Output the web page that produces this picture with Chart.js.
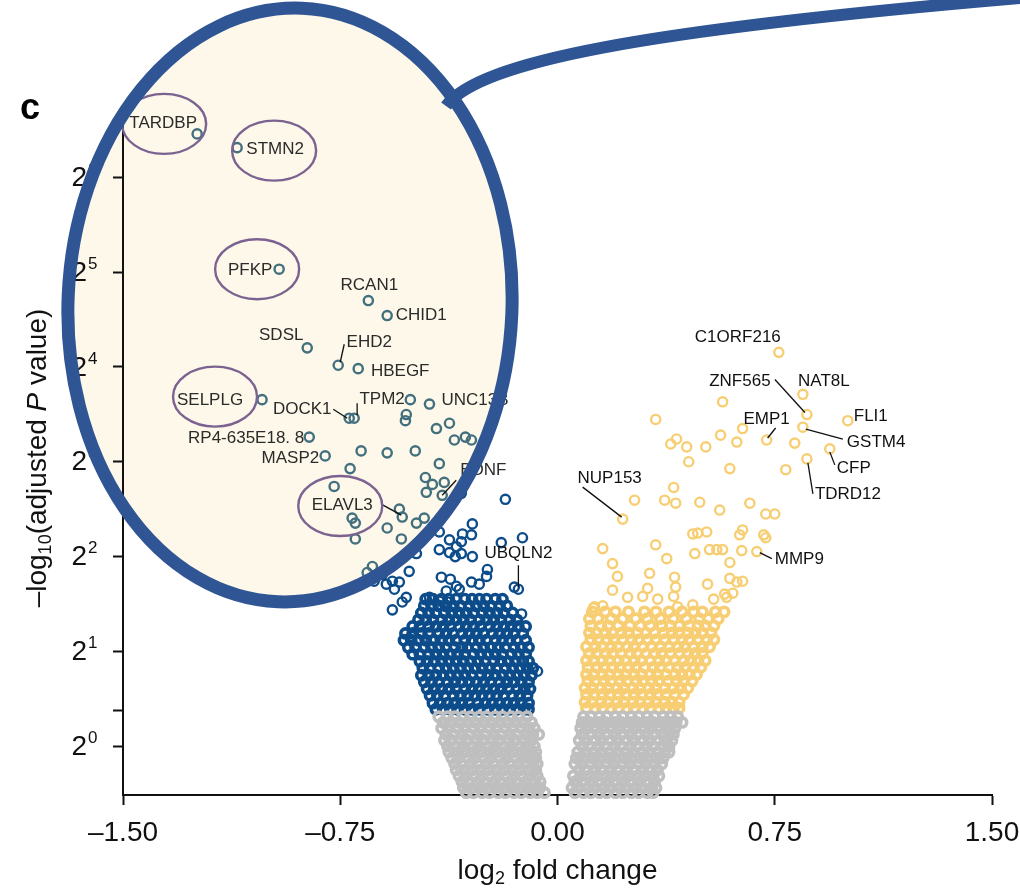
<!DOCTYPE html>
<html><head><meta charset="utf-8">
<script src="https://cdn.jsdelivr.net/npm/chart.js@4.4.1/dist/chart.umd.min.js"></script>
<style>html,body{margin:0;padding:0;background:#fff;}canvas{display:block;}</style>
</head><body>
<canvas id="c" width="1020" height="889" style="width:1020px;height:889px"></canvas>
<script>
// ---------------- DATA ----------------
const xTicks = [-1.5, -0.75, 0, 0.75, 1.5];
const yTickValues = [1, 1.301, 2, 4, 8, 16, 32, 64];
const yTickExponents = [0, null, 1, 2, 3, 4, 5, 6];

// labelled genes: log2 fold change and -log10(adjusted P)
const geneNames = ['TARDBP','STMN2','PFKP','RCAN1','CHID1','SDSL','EHD2','HBEGF','SELPLG','DOCK1','TPM2','UNC13B','RP4-635E18. 8','MASP2','ELAVL3','BDNF','UBQLN2',
  'C1ORF216','NAT8L','ZNF565','FLI1','EMP1','GSTM4','CFP','TDRD12','NUP153','MMP9'];
const geneFC = [-1.244,-1.106,-0.961,-0.653,-0.588,-0.864,-0.757,-0.688,-1.020,-0.719,-0.702,-0.442,-0.857,-0.802,-0.536,-0.398,-0.135,
  0.764,0.847,0.861,1.002,0.722,0.847,0.940,0.861,0.225,0.688];
const genePadj = [87.9,79.5,32.7,26.0,23.3,18.4,16.2,15.8,12.6,11.0,11.0,12.2,9.58,8.35,5.34,6.26,3.15,
  17.8,13.1,11.3,10.8,9.38,10.3,8.79,8.17,5.26,4.15];

// other significant down-regulated genes [log2FC, -log10 padj]
const blueSparse = [[-0.508,12.6],[-0.522,11.3],[-0.525,10.8],[-0.373,10.6],[-0.418,10.2],[-0.356,9.38],[-0.318,9.58],[-0.297,9.38],
 [-0.678,8.66],[-0.588,8.54],[-0.491,8.66],[-0.716,7.61],[-0.408,7.89],[-0.771,6.68],[-0.456,7.13],[-0.432,6.78],[-0.453,6.40],[-0.391,6.88],[-0.332,6.35],[-0.180,6.08],
 [-0.546,5.66],[-0.709,5.30],[-0.698,5.11],[-0.588,4.93],[-0.698,4.55],[-0.539,4.55],[-0.487,5.11],[-0.460,5.30],[-0.408,4.79],[-0.373,4.52],[-0.328,4.72],[-0.332,4.46],
 [-0.294,5.08],[-0.297,4.69],[-0.349,4.30],[-0.408,4.21],[-0.373,4.12],[-0.353,4.0],[-0.332,4.09],[-0.294,4.0],[-0.194,4.43],[-0.121,4.59],[-0.487,4.09],
 [-0.512,3.59],[-0.639,3.72],[-0.657,3.56],[-0.605,3.51],[-0.633,3.34],[-0.591,3.27],[-0.570,3.34],[-0.546,3.32],[-0.563,3.15],[-0.522,2.97],[-0.536,2.87],[-0.570,2.71],
 [-0.401,3.44],[-0.370,3.39],[-0.349,3.22],[-0.384,3.11],[-0.297,3.32],[-0.270,3.27],[-0.245,3.46],[-0.242,3.64],[-0.149,3.20],[-0.339,3.15],
 [-0.442,2.97],[-0.408,2.89],[-0.380,2.87],[-0.505,2.23],[-0.470,2.28],[-0.436,2.17],[-0.124,2.63],[-0.069,1.73]];

// other significant up-regulated genes
const yellowSparse = [[0.570,12.4],[0.339,10.9],[0.639,10.2],[0.563,9.72],[0.411,9.45],[0.391,9.11],[0.446,8.92],[0.512,8.92],[0.619,9.24],[0.819,9.17],
 [0.453,8.0],[0.595,7.61],[0.788,7.55],[0.401,6.63],[0.266,6.04],[0.370,6.04],[0.408,5.91],[0.491,5.95],[0.560,5.62],[0.664,5.91],[0.719,5.46],[0.750,5.46],
 [0.467,4.72],[0.484,4.75],[0.515,4.79],[0.629,4.69],[0.639,4.86],[0.712,4.69],[0.719,4.59],[0.156,4.24],[0.339,4.36],[0.474,4.09],[0.525,4.21],[0.550,4.21],
 [0.570,4.21],[0.636,4.18],[0.377,3.94],[0.595,3.83],[0.190,3.80],[0.207,3.46],[0.318,3.54],[0.404,3.44],[0.408,3.20],[0.595,3.41],[0.518,3.27],[0.619,3.32],
 [0.639,3.34],[0.190,3.13],[0.311,3.17],[0.242,2.97],[0.128,2.77],[0.415,2.77],[0.467,2.81],[0.584,2.97],[0.605,3.06],[0.294,2.99],[0.346,2.93],[0.401,2.99],
 [0.577,3.04],[0.539,2.93],[0.124,2.75],[0.156,2.79]];

// dense significant down-regulated genes, by -log10 padj row
const blueDenseY = [2.93,2.79,2.65,2.52,2.40,2.28,2.17,2.06,1.96,1.86,1.77,1.68,1.60,1.52,1.45,1.37,1.31];
const blueDenseX = [
 [-0.455,-0.43,-0.40,-0.375,-0.35,-0.32,-0.295,-0.27,-0.245,-0.215,-0.19],
 [-0.46,-0.435,-0.41,-0.385,-0.36,-0.335,-0.305,-0.28,-0.255,-0.23,-0.20,-0.175],
 [-0.47,-0.445,-0.42,-0.39,-0.365,-0.34,-0.315,-0.29,-0.26,-0.235,-0.21,-0.185,-0.155],
 [-0.48,-0.455,-0.43,-0.40,-0.375,-0.35,-0.325,-0.30,-0.27,-0.245,-0.22,-0.195,-0.165,-0.14],
 [-0.50,-0.475,-0.445,-0.42,-0.395,-0.37,-0.34,-0.315,-0.29,-0.265,-0.235,-0.21,-0.185,-0.16,-0.135,-0.11],
 [-0.525,-0.50,-0.47,-0.445,-0.41,-0.385,-0.36,-0.33,-0.305,-0.28,-0.255,-0.225,-0.20,-0.175,-0.15,-0.12],
 [-0.53,-0.505,-0.48,-0.455,-0.425,-0.40,-0.375,-0.35,-0.32,-0.295,-0.27,-0.245,-0.215,-0.19,-0.165,-0.14,-0.11],
 [-0.515,-0.49,-0.46,-0.435,-0.41,-0.385,-0.355,-0.33,-0.31,-0.28,-0.255,-0.23,-0.205,-0.18,-0.15,-0.125,-0.10],
 [-0.50,-0.475,-0.445,-0.42,-0.395,-0.37,-0.345,-0.32,-0.29,-0.265,-0.24,-0.215,-0.19,-0.16,-0.135,-0.11],
 [-0.475,-0.45,-0.425,-0.40,-0.375,-0.35,-0.325,-0.30,-0.275,-0.25,-0.22,-0.195,-0.17,-0.145,-0.12,-0.10],
 [-0.465,-0.44,-0.41,-0.385,-0.36,-0.335,-0.31,-0.285,-0.26,-0.235,-0.21,-0.18,-0.155,-0.13,-0.105,-0.085],
 [-0.47,-0.445,-0.42,-0.395,-0.37,-0.345,-0.32,-0.295,-0.265,-0.24,-0.215,-0.19,-0.165,-0.14,-0.115,-0.09],
 [-0.46,-0.435,-0.41,-0.38,-0.355,-0.33,-0.305,-0.28,-0.255,-0.23,-0.20,-0.175,-0.15,-0.125,-0.10],
 [-0.45,-0.425,-0.40,-0.375,-0.35,-0.32,-0.295,-0.27,-0.245,-0.22,-0.195,-0.17,-0.14,-0.115,-0.095],
 [-0.44,-0.415,-0.39,-0.36,-0.335,-0.31,-0.285,-0.26,-0.235,-0.21,-0.185,-0.155,-0.13,-0.105],
 [-0.43,-0.405,-0.38,-0.355,-0.33,-0.305,-0.275,-0.25,-0.225,-0.20,-0.175,-0.15,-0.125,-0.10],
 [-0.42,-0.395,-0.37,-0.345,-0.32,-0.295,-0.27,-0.24,-0.215,-0.19,-0.165,-0.14,-0.115,-0.10]];

// dense significant up-regulated genes
const yellowDenseY = [2.67,2.54,2.41,2.29,2.18,2.07,1.97,1.87,1.78,1.69,1.61,1.53,1.46,1.38,1.32];
const yellowDenseX = [
 [0.12,0.165,0.20,0.245,0.30,0.34,0.385,0.43,0.47,0.50,0.545,0.575],
 [0.11,0.14,0.185,0.225,0.27,0.31,0.355,0.40,0.445,0.49,0.52,0.555],
 [0.115,0.15,0.175,0.21,0.25,0.285,0.32,0.36,0.39,0.42,0.455,0.485,0.51,0.54],
 [0.11,0.135,0.165,0.19,0.22,0.245,0.275,0.305,0.335,0.365,0.395,0.42,0.45,0.475,0.50,0.53],
 [0.115,0.14,0.17,0.195,0.225,0.255,0.28,0.31,0.34,0.37,0.40,0.43,0.455,0.485,0.515,0.54],
 [0.10,0.13,0.155,0.185,0.21,0.24,0.265,0.295,0.325,0.355,0.385,0.415,0.44,0.47,0.50,0.525],
 [0.11,0.135,0.165,0.19,0.22,0.25,0.275,0.305,0.335,0.36,0.39,0.42,0.45,0.475,0.50],
 [0.10,0.125,0.155,0.18,0.21,0.235,0.265,0.29,0.32,0.35,0.375,0.405,0.435,0.46,0.485,0.51],
 [0.105,0.135,0.16,0.19,0.215,0.245,0.27,0.30,0.33,0.355,0.385,0.415,0.44,0.47,0.495],
 [0.10,0.125,0.155,0.18,0.21,0.235,0.265,0.29,0.32,0.345,0.375,0.405,0.43,0.455,0.48],
 [0.105,0.13,0.16,0.185,0.215,0.24,0.27,0.295,0.325,0.35,0.38,0.41,0.435,0.465],
 [0.095,0.12,0.15,0.175,0.205,0.23,0.26,0.285,0.315,0.34,0.37,0.40,0.425,0.45],
 [0.10,0.125,0.155,0.18,0.21,0.235,0.265,0.29,0.32,0.345,0.375,0.405,0.435],
 [0.095,0.12,0.15,0.175,0.205,0.23,0.26,0.285,0.315,0.34,0.37,0.395,0.42],
 [0.10,0.13,0.155,0.185,0.21,0.24,0.265,0.295,0.32,0.35,0.375,0.40,0.42]];

// non-significant genes
const grayLeftY = [1.24,1.19,1.14,1.09,1.044,1.0,0.958,0.917,0.878,0.841,0.805,0.771,0.738,0.712];
const grayLeftX = [
 [-0.41,-0.38,-0.355,-0.325,-0.30,-0.27,-0.245,-0.215,-0.19,-0.16,-0.135,-0.105],
 [-0.395,-0.37,-0.34,-0.31,-0.285,-0.255,-0.23,-0.20,-0.175,-0.145,-0.12,-0.09],
 [-0.40,-0.375,-0.345,-0.32,-0.29,-0.265,-0.235,-0.21,-0.18,-0.155,-0.125,-0.10,-0.08],
 [-0.385,-0.36,-0.33,-0.305,-0.275,-0.25,-0.22,-0.195,-0.165,-0.14,-0.11,-0.085,-0.065],
 [-0.39,-0.365,-0.335,-0.31,-0.28,-0.255,-0.225,-0.20,-0.17,-0.145,-0.115,-0.09],
 [-0.38,-0.35,-0.325,-0.295,-0.27,-0.24,-0.215,-0.185,-0.16,-0.13,-0.105,-0.08],
 [-0.375,-0.345,-0.32,-0.29,-0.265,-0.235,-0.21,-0.18,-0.155,-0.125,-0.10,-0.075],
 [-0.365,-0.34,-0.31,-0.285,-0.255,-0.23,-0.20,-0.175,-0.145,-0.12,-0.095,-0.075],
 [-0.355,-0.33,-0.30,-0.275,-0.245,-0.22,-0.19,-0.165,-0.135,-0.11,-0.085,-0.07],
 [-0.35,-0.32,-0.295,-0.265,-0.24,-0.21,-0.185,-0.155,-0.13,-0.10,-0.075],
 [-0.34,-0.315,-0.285,-0.26,-0.23,-0.205,-0.175,-0.15,-0.12,-0.095,-0.07],
 [-0.33,-0.305,-0.275,-0.25,-0.22,-0.195,-0.165,-0.14,-0.11,-0.085,-0.06],
 [-0.325,-0.295,-0.27,-0.24,-0.215,-0.185,-0.16,-0.13,-0.105,-0.075,-0.06],
 [-0.315,-0.29,-0.26,-0.235,-0.205,-0.18,-0.15,-0.125,-0.095,-0.07,-0.045]];
const grayRightY = [1.24,1.19,1.14,1.09,1.044,1.0,0.958,0.917,0.878,0.841,0.805,0.771,0.738,0.712];
const grayRightX = [
 [0.09,0.115,0.145,0.17,0.20,0.225,0.255,0.28,0.31,0.335,0.365,0.39,0.415],
 [0.085,0.11,0.14,0.165,0.195,0.22,0.25,0.275,0.305,0.33,0.36,0.385,0.41,0.43],
 [0.08,0.105,0.135,0.16,0.19,0.215,0.245,0.27,0.30,0.325,0.355,0.38,0.405],
 [0.085,0.11,0.14,0.165,0.195,0.22,0.25,0.275,0.305,0.33,0.36,0.385,0.40],
 [0.075,0.10,0.13,0.155,0.185,0.21,0.24,0.265,0.295,0.32,0.35,0.375,0.395],
 [0.085,0.11,0.14,0.165,0.195,0.22,0.25,0.275,0.305,0.33,0.36,0.385],
 [0.07,0.095,0.125,0.15,0.18,0.205,0.235,0.26,0.29,0.315,0.345,0.37,0.385],
 [0.065,0.09,0.12,0.145,0.175,0.20,0.23,0.255,0.285,0.31,0.34,0.365],
 [0.06,0.085,0.115,0.14,0.17,0.195,0.225,0.25,0.28,0.305,0.335,0.36],
 [0.075,0.10,0.13,0.155,0.185,0.21,0.24,0.265,0.295,0.32,0.345],
 [0.055,0.08,0.11,0.135,0.165,0.19,0.22,0.245,0.275,0.30,0.33,0.35],
 [0.06,0.085,0.115,0.14,0.17,0.195,0.225,0.25,0.28,0.305,0.335],
 [0.05,0.075,0.105,0.13,0.16,0.185,0.215,0.24,0.27,0.295,0.325,0.34],
 [0.06,0.09,0.115,0.145,0.17,0.20,0.225,0.255,0.28,0.31,0.33]];

// ---------------- LAYOUT (pixels, not data) ----------------
const labelLayout = {
 'TARDBP':{dx:-34,dy:-11,align:'center'}, 'STMN2':{dx:38,dy:2,align:'center'}, 'PFKP':{dx:-29,dy:1,align:'center'},
 'RCAN1':{dx:1,dy:-15,align:'center'}, 'CHID1':{dx:34,dy:0,align:'center'}, 'SDSL':{dx:-26,dy:-13,align:'center'},
 'EHD2':{dx:31,dy:-23,align:'center',line:[2,-3,6,-21]}, 'HBEGF':{dx:42,dy:3,align:'center'},
 'SELPLG':{dx:-52,dy:1,align:'center'}, 'DOCK1':{dx:-47,dy:-9,align:'center',line:[-16,-9,-2,0]},
 'TPM2':{dx:28,dy:-19,align:'center',line:[3,-15,3,-3]}, 'UNC13B':{dx:12,dy:-4,align:'left'},
 'RP4-635E18. 8':{dx:-5,dy:1,align:'right'}, 'MASP2':{dx:-6,dy:2,align:'right'},
 'ELAVL3':{dx:-60,dy:-12,align:'center',line:[-21,-13,-1,-2]}, 'BDNF':{dx:18,dy:-25,align:'left',line:[0,0,14,-15]},
 'UBQLN2':{dx:0,dy:-36,align:'center',line:[0,-24,0,-2]},
 'C1ORF216':{dx:-41,dy:-15,align:'center'}, 'NAT8L':{dx:21,dy:-13,align:'center'},
 'ZNF565':{dx:-67,dy:-33,align:'center',line:[-32,-35,-2,-2]}, 'FLI1':{dx:6,dy:-4,align:'left'},
 'EMP1':{dx:0,dy:-21,align:'center',line:[9,-12,1,-2]}, 'GSTM4':{dx:44,dy:15,align:'left',line:[3,2,40,12]},
 'CFP':{dx:7,dy:19,align:'left',line:[0,3,5,16]}, 'TDRD12':{dx:8,dy:35,align:'left',line:[1,4,6,35]},
 'NUP153':{dx:-13,dy:-41,align:'center',line:[-40,-32,-1,-2]}, 'MMP9':{dx:18,dy:8,align:'left',line:[3,1,15,7]}
};
const circledLayout = {'TARDBP':[-33,-10],'STMN2':[37,3],'PFKP':[-22,0],'SELPLG':[-47,-3],'ELAVL3':[-62,-11]};
const LENS = {cx:290, cy:305, rx:222, ry:297, rot:0.04};
const COL = {gray:'#bfbfbf', blue:'#0d4c8a', yellow:'#f7ce73', inLens:'#43707f', lensFill:'#fdf8e9', ring:'#2f5594', circle:'#7c6291'};
const FONT = '"Liberation Sans", Arial, Helvetica, sans-serif';

// ---------------- BUILD ----------------
function rows(ys, xs){ const p=[]; ys.forEach((y,i)=>xs[i].forEach(x=>p.push({x:x,y:y}))); return p; }
const grayPts = rows(grayLeftY, grayLeftX).concat(rows(grayRightY, grayRightX));
const blueDensePts = rows(blueDenseY, blueDenseX);
const yellowDensePts = rows(yellowDenseY, yellowDenseX);
const bluePts = blueSparse.map(d=>({x:d[0],y:d[1]}));
const yellowPts = yellowSparse.map(d=>({x:d[0],y:d[1]}));
geneNames.forEach((n,i)=>{ const p={x:geneFC[i], y:genePadj[i]}; (geneFC[i]<0?bluePts:yellowPts).push(p); });

function inLens(px,py){
  const dx=px-LENS.cx, dy=py-LENS.cy, cs=Math.cos(-LENS.rot), sn=Math.sin(-LENS.rot);
  const u=dx*cs-dy*sn, v=dx*sn+dy*cs;
  const a=u/LENS.rx, b=v/LENS.ry; return a*a+b*b<1;
}
function blueColor(ctx){
  const ch=ctx.chart, r=ctx.raw; if(!r||!ch.scales.x) return COL.blue;
  const px=ch.scales.x.getPixelForValue(r.x), py=ch.scales.y.getPixelForValue(r.y);
  return inLens(px,py)?COL.inLens:COL.blue;
}
function lensPath(c){ c.beginPath(); c.ellipse(LENS.cx,LENS.cy,LENS.rx,LENS.ry,LENS.rot,0,Math.PI*2); }

function drawRich(c, parts, x, y, align){
  let w=0; parts.forEach(p=>{ c.font=p[1]; w+=c.measureText(p[0]).width; });
  let sx = align==='center'? x-w/2 : x;
  parts.forEach(p=>{ c.font=p[1]; c.fillText(p[0], sx, y+(p[2]||0)); sx+=c.measureText(p[0]).width; });
}

const overlay = {
  id:'overlay',
  beforeDraw(chart){
    const c=chart.ctx; c.save();
    c.fillStyle='#fff'; c.fillRect(0,0,chart.width,chart.height);
    lensPath(c); c.fillStyle=COL.lensFill; c.fill(); c.restore();
  },
  afterDraw(chart){
    const c=chart.ctx, xs=chart.scales.x, ys=chart.scales.y; c.save();
    c.fillStyle='#111'; c.textBaseline='middle';
    c.font='28px '+FONT; c.textAlign='center';
    xTicks.forEach(v=>{ const t=(v<0?'\u2013':'')+Math.abs(v).toFixed(2); c.fillText(t, xs.getPixelForValue(v), 833); });
    yTickValues.forEach((v,i)=>{
      const e=yTickExponents[i]; if(e===null) return;
      const py=ys.getPixelForValue(v);
      c.font='28px '+FONT; c.textAlign='right'; c.fillText('2', 87, py+1);
      c.font='17px '+FONT; c.textAlign='left'; c.fillText(String(e), 88, py-8);
    });
    c.textAlign='left';
    drawRich(c, [['log','28px '+FONT,0],['2','18px '+FONT,8],[' fold change','28px '+FONT,0]], xs.getPixelForValue(0), 871, 'center');
    c.save(); c.translate(38, 458); c.rotate(-Math.PI/2);
    drawRich(c, [['\u2013log','28px '+FONT,0],['10','18px '+FONT,8],['(adjusted ','28px '+FONT,0],['P','italic 28px '+FONT,0],[' value)','28px '+FONT,0]], 0, 0, 'center');
    c.restore();
    c.font='17px '+FONT;
    geneNames.forEach((n,i)=>{
      const L=labelLayout[n]; if(!L) return;
      const px=xs.getPixelForValue(geneFC[i]), py=ys.getPixelForValue(genePadj[i]);
      if(L.line){ c.beginPath(); c.moveTo(px+L.line[0],py+L.line[1]); c.lineTo(px+L.line[2],py+L.line[3]); c.strokeStyle='#111'; c.lineWidth=1.3; c.stroke(); }
      c.fillStyle = inLens(px+L.dx,py+L.dy)?'#2b2b2b':'#111';
      c.textAlign=L.align; c.fillText(n, px+L.dx, py+L.dy);
      const C=circledLayout[n];
      if(C){ c.beginPath(); c.ellipse(px+C[0],py+C[1],42,30,0,0,Math.PI*2); c.strokeStyle=COL.circle; c.lineWidth=2.4; c.stroke(); }
    });
    c.strokeStyle=COL.ring; c.lineCap='butt';
    c.beginPath(); c.moveTo(446,106); c.bezierCurveTo(478,62,640,30,1032,-3); c.lineWidth=12; c.stroke();
    lensPath(c); c.lineWidth=13; c.stroke();
    c.fillStyle='#000'; c.font='bold 36px '+FONT; c.textAlign='center'; c.textBaseline='alphabetic';
    c.fillText('c', 30, 119);
    c.restore();
  }
};

const axisCommon = {
  grid:{display:true, drawOnChartArea:false, drawTicks:true, tickLength:10, tickWidth:2, tickColor:'#111'},
  border:{display:true, color:'#111', width:2},
};
new Chart(document.getElementById('c').getContext('2d'), {
  type:'scatter',
  data:{datasets:[
    {data:grayPts, borderColor:COL.gray, borderWidth:3.7, clip:false},
    {data:blueDensePts, borderColor:COL.blue, borderWidth:3.6, clip:false},
    {data:yellowDensePts, borderColor:COL.yellow, borderWidth:3.6, clip:false},
    {data:bluePts, borderColor:blueColor, clip:false},
    {data:yellowPts, borderColor:COL.yellow, clip:false}
  ]},
  options:{
    responsive:false, animation:false, devicePixelRatio:1,
    layout:{padding:{left:0,right:28,top:122,bottom:0}},
    plugins:{legend:{display:false}, tooltip:{enabled:false}},
    elements:{point:{radius:4.6, borderWidth:2.4, backgroundColor:'rgba(0,0,0,0)', hoverRadius:4.6}},
    scales:{
      x:Object.assign({type:'linear', min:-1.5, max:1.5, afterFit:s=>{s.height=94;},
        afterBuildTicks:s=>{s.ticks=xTicks.map(v=>({value:v}));},
        ticks:{display:false}}, axisCommon),
      y:Object.assign({type:'logarithmic', min:0.744, max:95.9, afterFit:s=>{s.width=123;},
        afterBuildTicks:s=>{s.ticks=yTickValues.map(v=>({value:v}));},
        ticks:{display:false}}, axisCommon)
    }
  },
  plugins:[overlay]
});
</script>
</body></html>
